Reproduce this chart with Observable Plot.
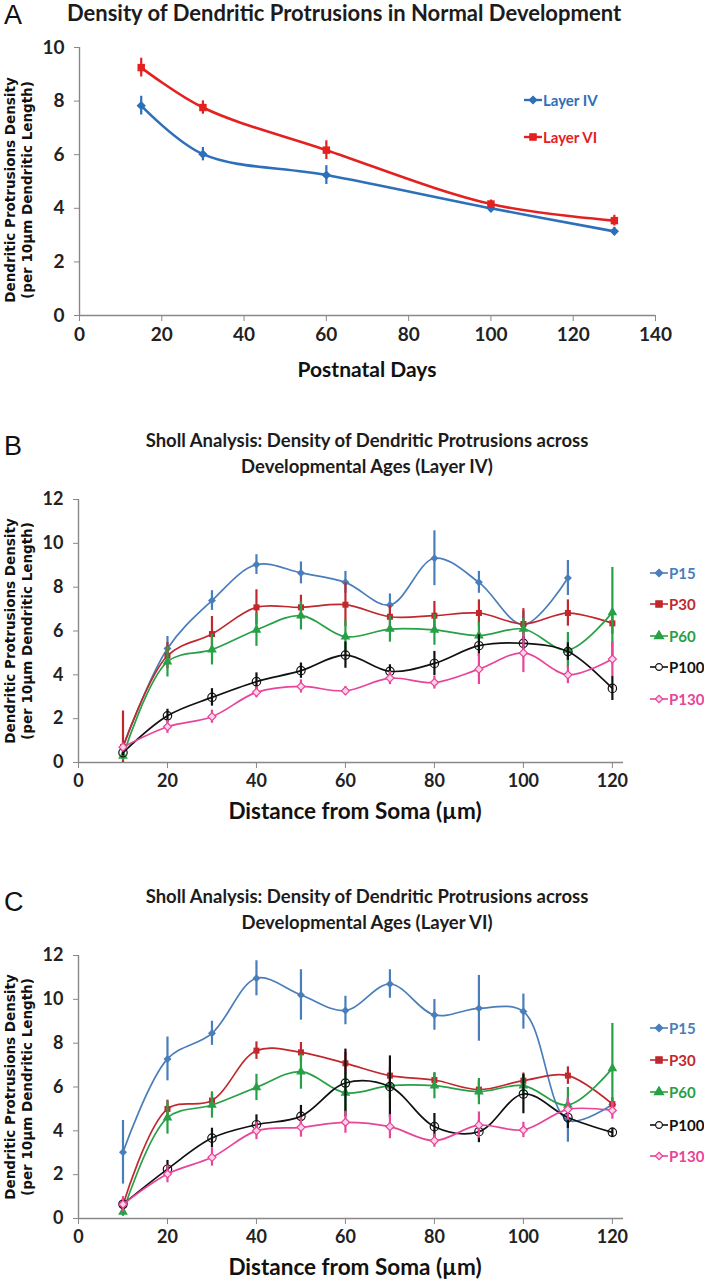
<!DOCTYPE html>
<html>
<head>
<meta charset="utf-8">
<script src="https://cdn.jsdelivr.net/npm/d3@7"></script>
<script src="https://cdn.jsdelivr.net/npm/@observablehq/plot@0.6"></script>
<style>
  html, body { margin: 0; padding: 0; background: #fff; }
  #wrap { position: relative; width: 704px; height: 1280px; overflow: hidden; font-family: Lato, "Open Sans", sans-serif; }
  .abs { position: absolute; white-space: nowrap; }
  .letter { font-family: "Liberation Sans", Arial, sans-serif; font-size: 27px; line-height: 30px; color: #111; }
  .title { font-family: Lato, sans-serif; font-weight: bold; color: #1c1c1c; transform: translateX(-50%); text-align: center; }
  .xlab { font-family: Lato, sans-serif; font-weight: bold; color: #111; transform: translateX(-50%); }
  .ylab { font-family: "DejaVu Sans", sans-serif; font-weight: bold; font-size: 13.5px; color: #111; transform: translate(-50%,-50%) rotate(-90deg); text-align: center; line-height: 17px; }
  .leg { display: flex; align-items: center; font-family: Lato, sans-serif; font-weight: bold; }
  .leg svg { margin-right: 1px; }
</style>
</head>
<body>
<div id="wrap"></div>
<script>
// ---------- Panel A data ----------
const daysA = [15, 30, 60, 100, 130];
const layerIV = [7.83, 6.02, 5.24, 4.0, 3.14];
const layerIVErr = [0.35, 0.25, 0.35, 0.15, 0.15];
const layerVI = [9.25, 7.76, 6.17, 4.16, 3.54];
const layerVIErr = [0.35, 0.25, 0.35, 0.15, 0.2];
const xTicksA = [0, 20, 40, 60, 80, 100, 120, 140];
const yTicksA = [0, 2, 4, 6, 8, 10];
const legendA = ["Layer IV", "Layer VI"];

// ---------- Panels B & C data ----------
const distance = [10, 20, 30, 40, 50, 60, 70, 80, 90, 100, 110, 120];
const ages = ["P15", "P30", "P60", "P100", "P130"];
const xTicksS = [0, 20, 40, 60, 80, 100, 120];
const yTicksS = [0, 2, 4, 6, 8, 10, 12];

// Layer IV (panel B)
const b_P15 = [0.72, 5.2, 7.39, 9.03, 8.65, 8.22, 7.19, 9.32, 8.22, 6.29, 8.42, null];
const b_P15e = [0.2, 0.55, 0.45, 0.45, 0.5, 0.5, 0.5, 1.25, 0.5, 0.6, 0.8, null];
const b_P30 = [0.7, 4.87, 5.86, 7.08, 7.08, 7.2, 6.65, 6.7, 6.82, 6.32, 6.82, 6.35];
const b_P30e = [1.65, 0.6, 0.8, 0.8, 0.55, 1.0, 0.5, 0.65, 0.6, 0.7, 0.6, 0.5];
const b_P60 = [0.3, 4.6, 5.15, 6.05, 6.7, 5.74, 6.09, 6.05, 5.79, 6.09, 5.13, 6.85];
const b_P60e = [0.2, 0.7, 0.7, 0.75, 0.65, 0.75, 0.6, 0.7, 0.6, 0.5, 0.8, 2.05];
const b_P100 = [0.45, 2.13, 2.97, 3.69, 4.19, 4.9, 4.16, 4.52, 5.33, 5.44, 5.06, 3.38];
const b_P100e = [0.15, 0.3, 0.4, 0.4, 0.35, 0.6, 0.3, 0.55, 0.5, 0.3, 0.4, 0.55];
const b_P130 = [0.7, 1.63, 2.09, 3.2, 3.47, 3.27, 3.85, 3.65, 4.26, 5.0, 4.0, 4.72];
const b_P130e = [0.2, 0.3, 0.3, 0.25, 0.3, 0.2, 0.3, 0.3, 0.7, 0.9, 0.4, 0.8];

// Layer VI (panel C)
const c_P15 = [3.02, 7.28, 8.45, 10.96, 10.2, 9.49, 10.7, 9.29, 9.59, 9.44, 4.48, 5.2];
const c_P15e = [1.45, 1.0, 0.55, 0.8, 1.15, 0.65, 0.65, 0.7, 1.5, 0.8, 1.0, 0.2];
const c_P30 = [0.62, 5.0, 5.38, 7.66, 7.58, 7.08, 6.52, 6.32, 5.88, 6.29, 6.52, 5.22];
const c_P30e = [0.3, 0.4, 0.35, 0.4, 0.45, 0.5, 0.4, 0.3, 0.4, 0.35, 0.4, 0.3];
const c_P60 = [0.3, 4.6, 5.18, 5.98, 6.7, 5.73, 6.06, 6.06, 5.79, 6.06, 5.18, 6.85];
const c_P60e = [0.2, 0.75, 0.6, 0.6, 0.8, 0.9, 0.6, 0.6, 0.6, 0.5, 0.8, 2.05];
const c_P100 = [0.65, 2.25, 3.67, 4.28, 4.66, 6.18, 6.02, 4.19, 3.96, 5.68, 4.61, 3.93];
const c_P100e = [0.2, 0.4, 0.45, 0.45, 0.5, 1.55, 1.4, 0.6, 0.5, 0.9, 0.5, 0.2];
const c_P130 = [0.65, 2.03, 2.79, 4.0, 4.16, 4.39, 4.19, 3.55, 4.26, 4.04, 4.98, 4.93];
const c_P130e = [0.35, 0.4, 0.4, 0.4, 0.45, 0.5, 0.55, 0.3, 0.6, 0.35, 0.5, 0.4];

// ---------- styles ----------
const colA = {"Layer IV": "#2e6fba", "Layer VI": "#e3211f"};
const symA = {"Layer IV": "diamond2", "Layer VI": "square"};
const colS = {P15: "#4a7ebb", P30: "#c0282d", P60: "#27a046", P100: "#111111", P130: "#e8449a"};
const symS = {P15: "diamond2", P30: "square", P60: "triangle", P100: "circle", P130: "diamond2"};
const fillS = {P15: "#4a7ebb", P30: "#c0282d", P60: "#27a046", P100: "none", P130: "#fbd3e7"};

const wrap = document.getElementById("wrap");
function addDiv(cls, html, left, top, extra) {
  const d = document.createElement("div");
  d.className = "abs " + cls;
  d.innerHTML = html;
  d.style.left = left + "px";
  d.style.top = top + "px";
  if (extra) Object.assign(d.style, extra);
  wrap.appendChild(d);
  return d;
}
function legendItem(label, color, symbol, fill, left, top, fontSize, lineW) {
  const d = addDiv("leg", "", left, top, {fontSize: fontSize + "px", color: color});
  const path = d3.symbol(symbol === "diamond2" ? d3.symbolDiamond2 : symbol === "square" ? d3.symbolSquare :
    symbol === "triangle" ? d3.symbolTriangle : d3.symbolCircle, symbol === "square" ? 40 : 36)();
  d.innerHTML = `<svg width="18" height="12" viewBox="-9 -6 18 12"><line x1="-9" x2="9" y1="0" y2="0" stroke="${color}" stroke-width="${lineW}"/><path d="${path}" fill="${fill}" stroke="${color}" stroke-width="1.2"/></svg><span>${label}</span>`;
}

// ---------- Panel A ----------
const rowsA = [];
legendA.forEach((name, k) => {
  const v = k === 0 ? layerIV : layerVI, e = k === 0 ? layerIVErr : layerVIErr;
  daysA.forEach((x, i) => rowsA.push({series: name, x, y: v[i], lo: v[i] - e[i], hi: v[i] + e[i]}));
});
const marksA = [];
legendA.forEach(name => {
  const r = rowsA.filter(d => d.series === name);
  marksA.push(Plot.ruleX(r, {x: "x", y1: "lo", y2: "hi", stroke: colA[name], strokeWidth: 2.2}));
  marksA.push(Plot.line(r, {x: "x", y: "y", stroke: colA[name], strokeWidth: 2.6, curve: "catmull-rom"}));
  marksA.push(Plot.dot(r, {x: "x", y: "y", symbol: symA[name], fill: colA[name], r: 4.2}));
});
const plotA = Plot.plot({
  width: 704, height: 390,
  marginLeft: 79, marginRight: 49, marginTop: 47, marginBottom: 75,
  style: {fontFamily: "Lato, sans-serif", overflow: "visible", background: "transparent"},
  x: {domain: [0, 140]},
  y: {domain: [0, 10]},
  marks: [
    Plot.axisY(yTicksA, {tickSize: 5, tickPadding: 10, fontSize: 19, fontWeight: "bold", stroke: "#888", fill: "#222", label: null}),
    Plot.axisX(xTicksA, {tickSize: 6, tickPadding: 6, fontSize: 19, fontWeight: "bold", stroke: "#888", fill: "#222", label: null}),
    Plot.ruleX([0], {stroke: "#888", strokeWidth: 1.4}),
    Plot.ruleY([0], {stroke: "#888", strokeWidth: 1.4}),
    ...marksA
  ]
});
plotA.style.position = "absolute"; plotA.style.left = "0px"; plotA.style.top = "0px";
wrap.appendChild(plotA);
addDiv("letter", "A", 4, 0);
addDiv("title", "Density of Dendritic Protrusions in Normal Development", 344, -1, {fontSize: "22px"});
addDiv("ylab", "Dendritic Protrusions Density<br>(per 10µm Dendritic Length)", 19, 190);
addDiv("xlab", "Postnatal Days", 367, 356, {fontSize: "21px"});
legendItem(legendA[0], colA["Layer IV"], "diamond2", colA["Layer IV"], 524, 91, 15, 2.4);
legendItem(legendA[1], colA["Layer VI"], "square", colA["Layer VI"], 524, 128, 15, 2.4);

// ---------- Sholl panels ----------
function sholl(series, top, height, marginTop, marginBottom, letter, title2, yTitle, legTops) {
  const rows = [];
  ages.forEach((age, k) => {
    const [v, e] = series[k];
    distance.forEach((x, i) => { if (v[i] != null) rows.push({age, x, y: v[i], lo: v[i] - e[i], hi: v[i] + e[i]}); });
  });
  const marks = [];
  ages.forEach(age => {
    const r = rows.filter(d => d.age === age);
    marks.push(Plot.ruleX(r, {x: "x", y1: "lo", y2: "hi", stroke: colS[age], strokeWidth: 2.2, clip: true}));
    marks.push(Plot.line(r, {x: "x", y: "y", stroke: colS[age], strokeWidth: 1.7, curve: "catmull-rom"}));
    marks.push(Plot.dot(r, {x: "x", y: "y", symbol: symS[age], fill: fillS[age], stroke: (age === "P100" || age === "P130") ? colS[age] : null, strokeWidth: 1.2, r: age === "P100" ? 4.2 : age === "P30" ? 3.4 : 3.6}));
  });
  const p = Plot.plot({
    width: 704, height,
    marginLeft: 78, marginRight: 81, marginTop, marginBottom,
    style: {fontFamily: "Lato, sans-serif", overflow: "visible", background: "transparent"},
    x: {domain: [0, 122.5]},
    y: {domain: [0, 12]},
    marks: [
      Plot.axisY(yTicksS, {tickSize: 5, tickPadding: 10, fontSize: 18, fontWeight: "bold", stroke: "#888", fill: "#222", label: null}),
      Plot.axisX(xTicksS, {tickSize: 6, tickPadding: 6, fontSize: 18, fontWeight: "bold", stroke: "#888", fill: "#222", label: null}),
      Plot.ruleX([0], {stroke: "#888", strokeWidth: 1.4}),
      Plot.ruleY([0], {stroke: "#888", strokeWidth: 1.4}),
      ...marks
    ]
  });
  p.style.position = "absolute"; p.style.left = "0px"; p.style.top = top + "px";
  wrap.appendChild(p);
  const y0 = top + marginTop, y1 = top + height - marginBottom;
  addDiv("letter", letter, 4, y0 - 68);
  addDiv("title", "Sholl Analysis: Density of Dendritic Protrusions across<br>Developmental Ages (" + title2 + ")", 367, y0 - 72, {fontSize: "18.5px", lineHeight: "26px"});
  addDiv("ylab", "Dendritic Protrusions Density<br>(per 10µm Dendritic Length)", 19, yTitle);
  addDiv("xlab", "Distance from Soma (µm)", 355, y1 + 35, {fontSize: "22.5px"});
  ages.forEach((age, k) => legendItem(age, colS[age], symS[age], fillS[age] === "none" ? "#fff" : fillS[age], 650, legTops[k], 15, 1.6));
}

sholl([[b_P15, b_P15e], [b_P30, b_P30e], [b_P60, b_P60e], [b_P100, b_P100e], [b_P130, b_P130e]],
  420, 400, 79, 58, "B", "Layer IV", 631, [564, 595, 627, 658, 690]);
sholl([[c_P15, c_P15e], [c_P30, c_P30e], [c_P60, c_P60e], [c_P100, c_P100e], [c_P130, c_P130e]],
  850, 430, 105, 62, "C", "Layer VI", 1087, [1019, 1051, 1083, 1116, 1147]);
</script>
</body>
</html>
